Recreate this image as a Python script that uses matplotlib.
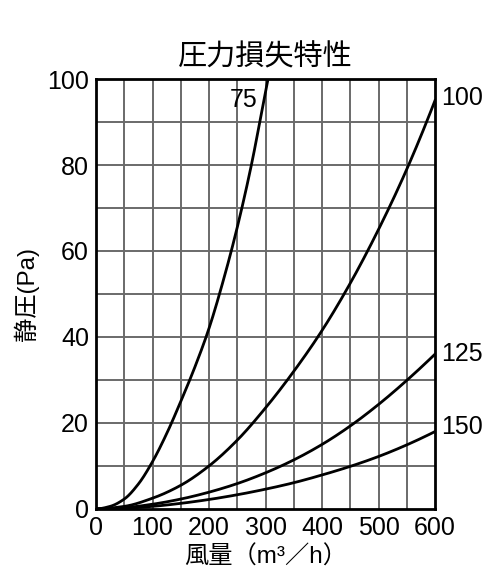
import matplotlib
matplotlib.use("Agg")
import matplotlib.pyplot as plt
import numpy as np

FONT = ['Liberation Sans', 'Noto Sans CJK JP', 'DejaVu Sans']
plt.rcParams['font.family'] = FONT

# Data (static pressure Pa vs airflow m3/h) per duct diameter
x_75 = [0, 25, 50, 75, 100, 125, 150, 175, 200, 225, 250, 275, 300, 304.5]
y_75 = [0, 0.6, 2.3, 5.8, 11, 17.5, 25, 33, 42, 53, 65.5, 80, 97, 100]

x_100 = [0, 50, 100, 150, 200, 250, 300, 350, 400, 450, 500, 550, 600]
y_100 = [0, 0.6, 2.5, 5.5, 10, 16, 23.5, 32, 41.5, 52.5, 65, 79, 95]

x_125 = [0, 50, 100, 150, 200, 250, 300, 350, 400, 450, 500, 550, 600]
y_125 = [0, 0.3, 1.1, 2.3, 3.9, 5.9, 8.4, 11.4, 15, 19.3, 24.3, 29.9, 36]

x_150 = [0, 50, 100, 150, 200, 250, 300, 350, 400, 450, 500, 550, 600]
y_150 = [0, 0.15, 0.6, 1.3, 2.2, 3.3, 4.6, 6.1, 7.9, 9.9, 12.2, 14.9, 18]

labels = ['75', '100', '125', '150']
x_ticks = [0, 100, 200, 300, 400, 500, 600]
y_ticks = [0, 20, 40, 60, 80, 100]


def smooth_path(xs, ys, n=400):
    """Monotone cubic (PCHIP) rendering through the read points."""
    x = np.asarray(xs, float)
    y = np.asarray(ys, float)
    h = np.diff(x)
    d = np.diff(y) / h
    m = np.zeros_like(y)
    for k in range(1, len(x) - 1):
        if d[k - 1] * d[k] > 0:
            w1 = 2 * h[k] + h[k - 1]
            w2 = h[k] + 2 * h[k - 1]
            m[k] = (w1 + w2) / (w1 / d[k - 1] + w2 / d[k])
    m[0] = max(0.0, ((2 * h[0] + h[1]) * d[0] - h[0] * d[1]) / (h[0] + h[1]))
    m[-1] = max(0.0, ((2 * h[-1] + h[-2]) * d[-1] - h[-1] * d[-2]) / (h[-1] + h[-2]))
    xf = np.linspace(x[0], x[-1], n)
    idx = np.clip(np.searchsorted(x, xf) - 1, 0, len(x) - 2)
    t = (xf - x[idx]) / h[idx]
    h00 = 2 * t**3 - 3 * t**2 + 1
    h10 = t**3 - 2 * t**2 + t
    h01 = -2 * t**3 + 3 * t**2
    h11 = t**3 - t**2
    yf = h00 * y[idx] + h10 * h[idx] * m[idx] + h01 * y[idx + 1] + h11 * h[idx] * m[idx + 1]
    return xf, yf


fig = plt.figure(figsize=(5.0, 5.81), dpi=100)
ax = fig.add_axes([0.192, 0.124, 0.678, 0.740])

ax.set_xlim(0, 600)
ax.set_ylim(0, 100)

# grid
for gx in range(50, 600, 50):
    ax.axvline(gx, color='#6a6a6a', lw=1.4, zorder=1)
for gy in range(10, 100, 10):
    ax.axhline(gy, color='#6a6a6a', lw=1.4, zorder=1)

series = [(x_75, y_75), (x_100, y_100), (x_125, y_125), (x_150, y_150)]
for xs, ys in series:
    xf, yf = smooth_path(xs, ys)
    ax.plot(xf, yf, color='black', lw=2.0, zorder=3)

# curve labels
ax.text(262, 95.2, labels[0], ha='center', va='center', fontsize=18, family=FONT)
ax.text(611, 95.5, labels[1], ha='left', va='center', fontsize=18, family=FONT, clip_on=False)
ax.text(611, 36, labels[2], ha='left', va='center', fontsize=18, family=FONT, clip_on=False)
ax.text(611, 19, labels[3], ha='left', va='center', fontsize=18, family=FONT, clip_on=False)

ax.set_xticks(x_ticks)
ax.set_yticks(y_ticks)
ax.set_xticklabels([str(v) for v in x_ticks], fontsize=18)
ax.set_yticklabels([str(v) for v in y_ticks], fontsize=18)
ax.tick_params(length=0, pad=5)

for s in ax.spines.values():
    s.set_linewidth(2.0)
    s.set_color('black')
    s.set_zorder(4)

ax.set_title('圧力損失特性', fontsize=21, pad=10, family=FONT)
ax.set_xlabel('風量（m³／h）', fontsize=17.5, labelpad=4, family=FONT)
ax.set_ylabel('静圧(Pa)', fontsize=17.5, labelpad=6, family=FONT)

fig.savefig('out.png', dpi=100, facecolor='white')
